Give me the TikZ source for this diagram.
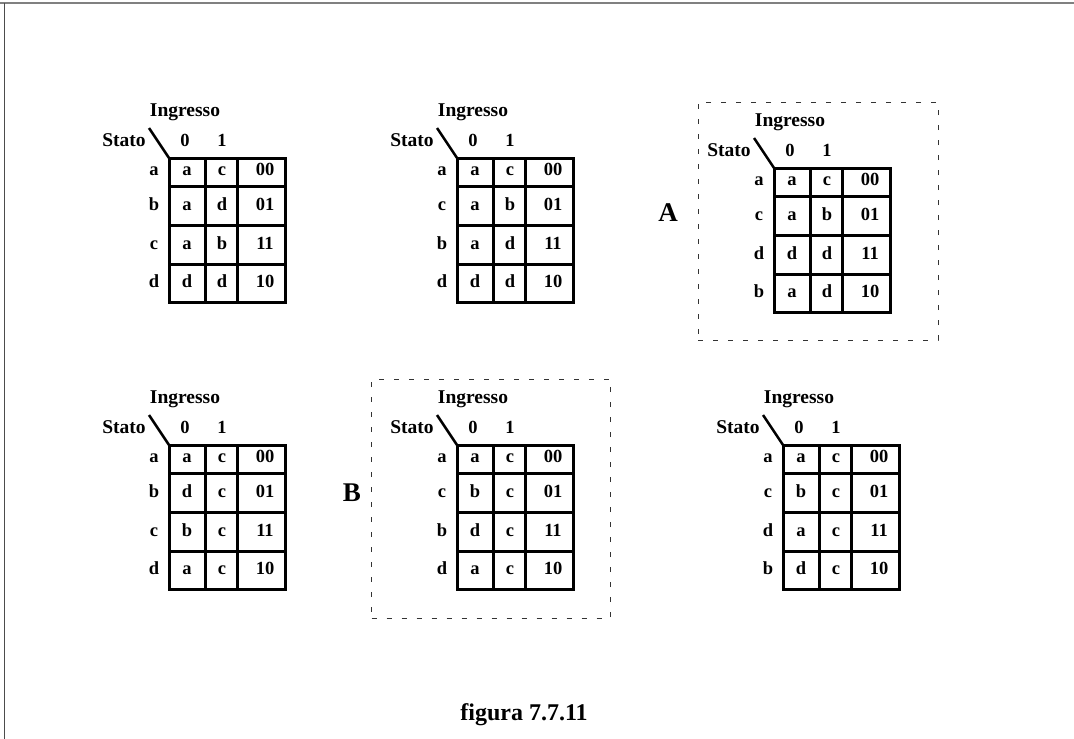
\documentclass[tikz,border=0pt]{standalone}
\usepackage{fontspec}
\setmainfont{Liberation Serif}
\begin{document}
\begin{tikzpicture}[x=1pt,y=-1pt,
  hdr/.style={font=\fontsize{19.5}{21}\selectfont\bfseries, inner sep=0pt, text height=0.68em, text depth=0pt},
  cell/.style={font=\fontsize{18.5}{20}\selectfont\bfseries, inner sep=0pt, text height=0.68em, text depth=0pt},
  tag/.style={font=\fontsize{27}{29}\selectfont\bfseries, inner sep=0pt, text height=0.68em, text depth=0pt},
  caption/.style={font=\fontsize{24}{26}\selectfont\bfseries, inner sep=0pt},
  gridline/.style={line width=3pt, line cap=square},
  diag/.style={line width=2.5pt},
  group/.style={draw=black!80, line width=1pt, dash pattern=on 5pt off 10pt}]

\useasboundingbox (0,0) rectangle (1074,739);

% page frame (top and left edges)
\draw[gray, line width=2pt] (0,3) -- (1074,3);
\draw[black!70, line width=1pt] (4,3) -- (4,739);

% state table: name, x, y of grid corner, then rows state/next(0)/next(1)
\newcommand\statetable[7]{%
  \begin{scope}[shift={(#2,#3)}]
    \node[hdr] (#1-in) at (16,-45) {Ingresso};
    \node[hdr] (#1-st) at (-45,-15) {Stato};
    \node[cell] (#1-h0) at (16,-15) {0};
    \node[cell] (#1-h1) at (53,-15) {1};
    \coordinate (#1-nw) at (0,0);
    \coordinate (#1-dg) at (-20,-30);
    \draw[diag] (#1-dg) -- (#1-nw);
    \draw[gridline] (0,0) rectangle (116,144);
    \draw[gridline] (0,28) -- (116,28) (0,67) -- (116,67) (0,106) -- (116,106);
    \draw[gridline] (36,0) -- (36,144) (68,0) -- (68,144);
    \foreach \k/\yy/\code/\row in {1/14/00/#4, 2/49/01/#5, 3/88/11/#6, 4/126/10/#7} {
      \foreach \s/\p/\q in \row {
        \node[cell] (#1-s\k) at (-15,\yy) {\s};
        \node[cell] (#1-p\k) at (18,\yy) {\p};
        \node[cell] (#1-q\k) at (53,\yy) {\q};
        \node[cell] (#1-c\k) at (96,\yy) {\code};
      }
    }
  \end{scope}}

\statetable{t1}{169}{158}{{a/a/c}}{{b/a/d}}{{c/a/b}}{{d/d/d}}
\statetable{t2}{457}{158}{{a/a/c}}{{c/a/b}}{{b/a/d}}{{d/d/d}}
\statetable{t3}{774}{168}{{a/a/c}}{{c/a/b}}{{d/d/d}}{{b/a/d}}
\statetable{t4}{169}{445}{{a/a/c}}{{b/d/c}}{{c/b/c}}{{d/a/c}}
\statetable{t5}{457}{445}{{a/a/c}}{{c/b/c}}{{b/d/c}}{{d/a/c}}
\statetable{t6}{783}{445}{{a/a/c}}{{c/b/c}}{{d/a/c}}{{b/d/c}}

% highlighted groups
\node[group, minimum width=240pt, minimum height=238pt, inner sep=0pt] (boxA) at (818,221) {};
\node[group, minimum width=239pt, minimum height=239pt, inner sep=0pt] (boxB) at (491,498.5) {};
\node[tag] (labA) at (668,218) {A};
\node[tag] (labB) at (352,498) {B};

\node[caption] (cap) at (524,715) {figura 7.7.11};
\end{tikzpicture}
\end{document}
